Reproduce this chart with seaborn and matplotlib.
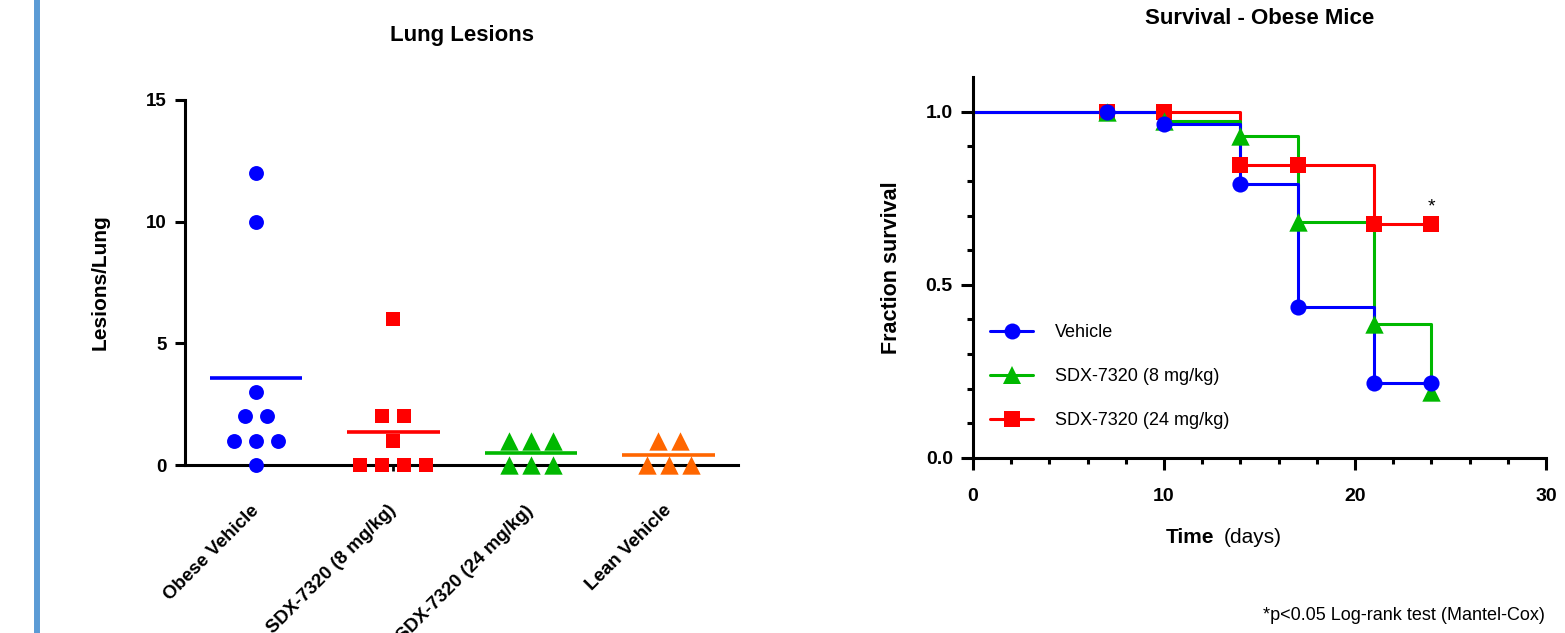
import numpy as np
import pandas as pd
import matplotlib
matplotlib.use("Agg")
import matplotlib.pyplot as plt
import seaborn as sns
from matplotlib.lines import Line2D
from matplotlib.ticker import MultipleLocator, FixedLocator

# ---------------- data: left panel (lesions per lung) ----------------
lesion_groups = ["Obese Vehicle", "SDX-7320 (8 mg/kg)", "SDX-7320 (24 mg/kg)", "Lean Vehicle"]
obese_vehicle = [12, 10, 3, 2, 2, 1, 1, 1, 0]
sdx_8_lesions = [6, 2, 2, 1, 0, 0, 0, 0]
sdx_24_lesions = [1, 1, 1, 0, 0, 0]
lean_vehicle = [1, 1, 0, 0, 0]
lesion_colors = ["#0000FF", "#FF0000", "#00B800", "#FF6600"]
lesion_markers = ["o", "s", "^", "^"]

# ---------------- data: right panel (survival) ----------------
surv_time = [0, 7, 10, 14, 17, 21, 24]
surv_vehicle = [1.0, 1.0, 0.963, 0.792, 0.436, 0.217, 0.217]
surv_sdx8 = [1.0, 1.0, 0.972, 0.931, 0.682, 0.387, 0.190]
surv_sdx24 = [1.0, 1.0, 1.0, 0.847, 0.847, 0.676, 0.676]
surv_labels = ["Vehicle", "SDX-7320 (8 mg/kg)", "SDX-7320 (24 mg/kg)"]
surv_colors = ["#0000FF", "#00B800", "#FF0000"]
surv_markers = ["o", "^", "s"]

sns.set_style("ticks")
plt.rcParams["font.family"] = ["Liberation Sans", "DejaVu Sans"]
plt.rcParams.update({
    "axes.linewidth": 2.2,
    "axes.edgecolor": "black",
    "axes.labelcolor": "black",
    "text.color": "black",
    "xtick.color": "black",
    "ytick.color": "black",
})

W, H = 1565, 633
fig = plt.figure(figsize=(W / 100, H / 100), dpi=100)

# decorative vertical bar at the left edge
fig.add_artist(Line2D([37 / W, 37 / W], [0, 1], color="#5B9BD5", lw=4.3))


def dot_offsets(values, step=0.16):
    vals = np.asarray(values, float)
    off = np.zeros(len(vals))
    for v in np.unique(vals):
        idx = np.where(vals == v)[0]
        n = len(idx)
        off[idx] = (np.arange(n) - (n - 1) / 2) * step
    return off


rows = []
for gi, (g, vals) in enumerate(zip(lesion_groups,
                                   [obese_vehicle, sdx_8_lesions, sdx_24_lesions, lean_vehicle])):
    offs = dot_offsets(vals)
    for v, o in zip(vals, offs):
        rows.append({"group": g, "value": v, "x": gi + o})
les_df = pd.DataFrame(rows)

# ---------------- left axes ----------------
ax1 = fig.add_axes([185 / W, 1 - 465 / H, 553 / W, 365 / H])
for gi, g in enumerate(lesion_groups):
    sub = les_df[les_df["group"] == g]
    size = 175 if lesion_markers[gi] == "^" else 115
    sns.scatterplot(data=sub, x="x", y="value", marker=lesion_markers[gi],
                    color=lesion_colors[gi], s=size, linewidth=0, ax=ax1,
                    clip_on=False, zorder=4, legend=False)
means = les_df.groupby("group", sort=False)["value"].mean()
for gi, g in enumerate(lesion_groups):
    ax1.hlines(means[g], gi - 0.335, gi + 0.335, color=lesion_colors[gi], lw=2.6, zorder=3)

ax1.set_xlim(-0.516, 3.505)
ax1.set_ylim(0, 15)
ax1.yaxis.set_major_locator(MultipleLocator(5))
ax1.set_xticks(range(len(lesion_groups)))
ax1.set_xticklabels(lesion_groups, rotation=45, ha="right", va="center",
                    rotation_mode="anchor", fontweight="bold", fontsize=13.5)
ax1.tick_params(axis="x", length=4, width=2, pad=27)
ax1.tick_params(axis="y", length=7, width=2.2, pad=6, labelsize=13.5)
for t in ax1.get_yticklabels():
    t.set_fontweight("bold")
ax1.set_xlabel("")
ax1.set_ylabel("Lesions/Lung", fontsize=15, fontweight="bold")
ax1.yaxis.set_label_coords(-0.136, 0.5)
sns.despine(ax=ax1)
ax1.text(0.5, (465 - 35) / 365, "Lung Lesions", transform=ax1.transAxes,
         ha="center", va="center", fontsize=16, fontweight="bold")

# ---------------- right axes ----------------
surv_df = pd.DataFrame({
    "time": surv_time * 3,
    "surv": surv_vehicle + surv_sdx8 + surv_sdx24,
    "group": [surv_labels[0]] * 7 + [surv_labels[1]] * 7 + [surv_labels[2]] * 7,
})
pal = dict(zip(surv_labels, surv_colors))
draw_order = [surv_labels[2], surv_labels[1], surv_labels[0]]

ax2 = fig.add_axes([973 / W, 1 - 458 / H, 573 / W, 381 / H])
sns.lineplot(data=surv_df, x="time", y="surv", hue="group", hue_order=draw_order,
             palette=pal, drawstyle="steps-post", linewidth=2.2, estimator=None,
             legend=False, ax=ax2, clip_on=False)
for g in draw_order:
    i = surv_labels.index(g)
    sub = surv_df[(surv_df["group"] == g) & (surv_df["time"] > 0)]
    size = 175 if surv_markers[i] == "^" else 135
    sns.scatterplot(data=sub, x="time", y="surv", marker=surv_markers[i],
                    color=surv_colors[i], s=size, linewidth=0, ax=ax2,
                    clip_on=False, zorder=4, legend=False)

ax2.set_xlim(0, 30)
ax2.set_ylim(0, 1.1)
ax2.set_xticks([0, 10, 20, 30])
ax2.xaxis.set_minor_locator(MultipleLocator(2))
ax2.set_yticks([0, 0.5, 1.0])
ax2.set_yticklabels(["0.0", "0.5", "1.0"])
ax2.yaxis.set_minor_locator(FixedLocator([0.1, 0.2, 0.3, 0.4, 0.6, 0.7, 0.8, 0.9]))
ax2.tick_params(which="major", length=8.5, width=2.2, labelsize=14)
ax2.tick_params(which="minor", length=4.5, width=2.2)
ax2.tick_params(axis="x", which="major", pad=13)
ax2.tick_params(axis="y", which="major", pad=6)
for t in ax2.get_xticklabels() + ax2.get_yticklabels():
    t.set_fontweight("bold")
ax2.set_xlabel("")
ax2.set_ylabel("Fraction survival", fontsize=15.5, fontweight="bold")
ax2.yaxis.set_label_coords(-0.124, 0.5)
sns.despine(ax=ax2)
ax2.text(0.5, (458 - 18) / 381, "Survival - Obese Mice", transform=ax2.transAxes,
         ha="center", va="center", fontsize=16, fontweight="bold")
ax2.text(24, 0.725, "*", ha="center", va="center", fontsize=14)

handles = [Line2D([], [], color=c, marker=m, lw=2.2,
                  markersize=(13.5 if m == "^" else 11.5), markeredgewidth=0)
           for c, m in zip(surv_colors, surv_markers)]
ax2.legend(handles, surv_labels, loc="upper left", bbox_to_anchor=(0.017, 0.37),
           frameon=False, fontsize=13, handlelength=2.4, handletextpad=1.2,
           labelspacing=1.5, borderaxespad=0, borderpad=0.4)

fig.text(1214 / W, 1 - 543 / H, "Time", ha="right", va="baseline",
         fontsize=15, fontweight="bold")
fig.text(1224 / W, 1 - 543 / H, "(days)", ha="left", va="baseline", fontsize=15)

fig.text(1545 / W, 1 - 615 / H, "*p<0.05 Log-rank test (Mantel-Cox)",
         ha="right", va="center", fontsize=13)

fig.savefig("out.png", dpi=100)
